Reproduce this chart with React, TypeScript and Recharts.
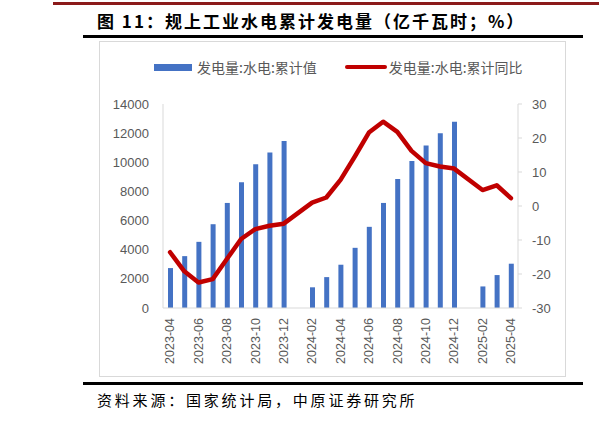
import React from 'react';
import { ComposedChart, Bar, Line, XAxis, YAxis } from 'recharts';

const months = [
  '2023-04', '2023-05', '2023-06', '2023-07', '2023-08', '2023-09', '2023-10', '2023-11', '2023-12',
  '2024-01', '2024-02', '2024-03', '2024-04', '2024-05', '2024-06', '2024-07', '2024-08', '2024-09',
  '2024-10', '2024-11', '2024-12', '2025-01', '2025-02', '2025-03', '2025-04',
];

// 发电量:水电:累计值 (亿千瓦时)
const cumValue = [
  2740, 3560, 4540, 5750, 7210, 8630, 9860, 10680, 11460,
  null, 1420, 2120, 2970, 4130, 5570, 7210, 8860, 10090,
  11160, 11990, 12790, null, 1480, 2260, 3040,
];

// 发电量:水电:累计同比 (%)
const cumYoy = [
  -13.6, -19.2, -22.5, -21.5, -15.6, -9.7, -6.8, -5.8, -5.2,
  null, 1.0, 2.5, 7.7, 14.5, 21.6, 24.8, 21.8, 16.2,
  12.6, 11.6, 11.0, null, 4.7, 6.1, 2.3,
];

const leftTicks = [0, 2000, 4000, 6000, 8000, 10000, 12000, 14000];
const rightTicks = [-30, -25, -20, -15, -10, -5, 0, 5, 10, 15, 20, 25, 30];

const BAR_NAME = '发电量:水电:累计值';
const LINE_NAME = '发电量:水电:累计同比';

const BLUE = '#4472C4';
const RED = '#C00000';
const GRAY_TEXT = '#595959';
const AXIS_GRAY = '#D9D9D9';
const NUM_FONT = '"Liberation Sans", Arial, sans-serif';
const CJK_FONT = '"Noto Sans CJK SC", sans-serif';

const data = months.map((m, i) => ({ month: m, value: cumValue[i], yoy: cumYoy[i] }));

const MonthTick = ({ x, y, payload }: any) => (
  <g transform={`translate(${x},${y})`}>
    <text transform="rotate(-90)" textAnchor="end" dy="0.35em" fill={GRAY_TEXT} fontSize={12.5} fontFamily={NUM_FONT}>
      {payload.value}
    </text>
  </g>
);

const RightTick = ({ x, y, payload }: any) => {
  if (payload.value % 10 !== 0) return null;
  return (
    <text x={x} y={y} dy="0.35em" textAnchor="start" fill={GRAY_TEXT} fontSize={13} fontFamily={NUM_FONT}>
      {payload.value}
    </text>
  );
};

export default function App() {
  return (
    <div style={{ position: 'absolute', left: 0, top: 0, width: 599, height: 421, background: '#fff', overflow: 'hidden' }}>
      <div style={{ position: 'absolute', left: 53, top: 2, width: 546, height: 2.5, background: '#8B1A1A' }} />
      <div
        style={{
          position: 'absolute', left: 97, top: 9, fontFamily: CJK_FONT, fontWeight: 700,
          fontSize: 17, letterSpacing: 2, color: '#000', whiteSpace: 'nowrap', lineHeight: '24px',
        }}
      >
        图 11：规上工业水电累计发电量（亿千瓦时；%）
      </div>
      <div style={{ position: 'absolute', left: 83, top: 35, width: 500, height: 2.5, background: '#000' }} />
      <div style={{ position: 'absolute', left: 99, top: 41, width: 467, height: 336, border: `1px solid ${AXIS_GRAY}`, boxSizing: 'border-box' }} />

      {/* legend */}
      <div
        style={{
          position: 'absolute', left: 154, top: 57, height: 20, display: 'flex', alignItems: 'center',
          fontFamily: CJK_FONT, fontSize: 14, color: GRAY_TEXT, whiteSpace: 'nowrap',
        }}
      >
        <span style={{ display: 'inline-block', width: 38, height: 7, background: BLUE, marginRight: 5 }} />
        <span>{BAR_NAME}</span>
        <span style={{ display: 'inline-block', width: 42, height: 4.5, background: RED, borderRadius: 3, marginLeft: 28, marginRight: 2 }} />
        <span>{LINE_NAME}</span>
      </div>

      <div style={{ position: 'absolute', left: 0, top: 0 }}>
        <ComposedChart width={599} height={421} data={data} margin={{ top: 104, right: 21, bottom: 53, left: 103 }}>
          <XAxis
            dataKey="month"
            interval={1}
            tick={<MonthTick />}
            tickLine={false}
            tickSize={6}
            tickMargin={4}
            height={60}
            axisLine={{ stroke: AXIS_GRAY }}
          />
          <YAxis
            yAxisId="left"
            domain={[0, 14000]}
            ticks={leftTicks}
            width={60}
            tickLine={false}
            tickMargin={8}
            axisLine={{ stroke: AXIS_GRAY }}
            tick={{ fill: GRAY_TEXT, fontSize: 13, fontFamily: NUM_FONT }}
          />
          <YAxis
            yAxisId="right"
            orientation="right"
            domain={[-30, 30]}
            ticks={rightTicks}
            width={60}
            tickSize={4}
            tickMargin={10}
            tickLine={{ stroke: AXIS_GRAY }}
            axisLine={{ stroke: AXIS_GRAY }}
            tick={<RightTick />}
          />
          <Bar yAxisId="left" dataKey="value" name={BAR_NAME} fill={BLUE} barSize={5} isAnimationActive={false} />
          <Line
            yAxisId="right"
            type="linear"
            dataKey="yoy"
            name={LINE_NAME}
            stroke={RED}
            strokeWidth={4.5}
            strokeLinejoin="round"
            strokeLinecap="round"
            dot={false}
            activeDot={false}
            connectNulls
            isAnimationActive={false}
          />
        </ComposedChart>
      </div>

      <div style={{ position: 'absolute', left: 83, top: 382, width: 500, height: 2.5, background: '#000' }} />
      <div
        style={{
          position: 'absolute', left: 97, top: 389, fontFamily: CJK_FONT, fontSize: 15,
          letterSpacing: 2.8, color: '#000', whiteSpace: 'nowrap', lineHeight: '22px',
        }}
      >
        资料来源：国家统计局，中原证券研究所
      </div>
    </div>
  );
}
